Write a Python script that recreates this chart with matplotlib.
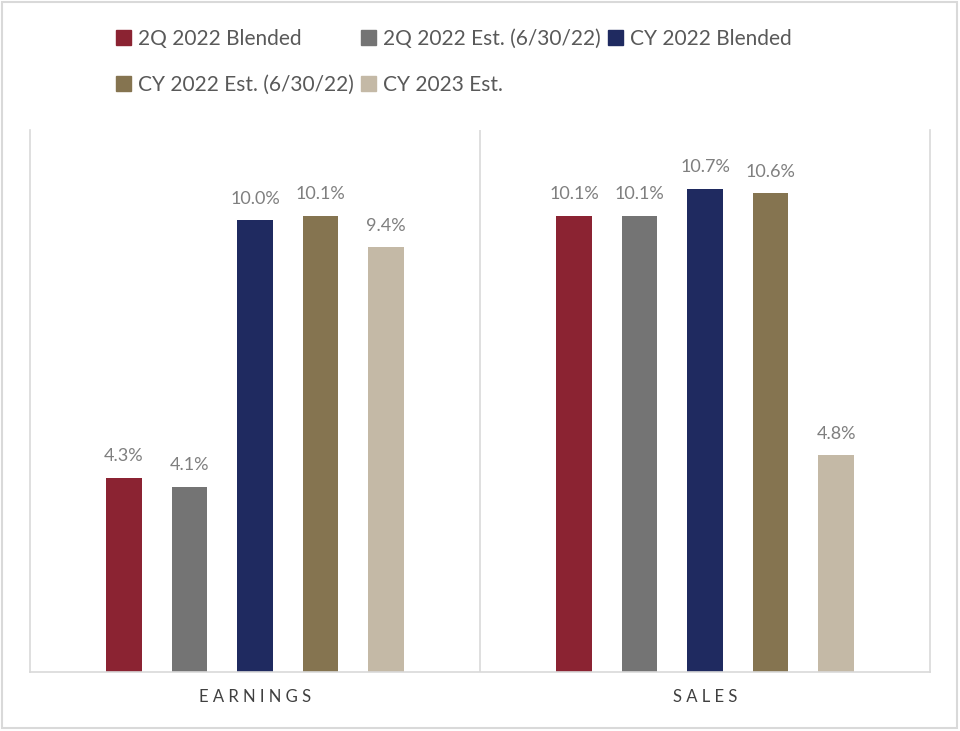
import numpy as np
import matplotlib
matplotlib.use('Agg')
import matplotlib.pyplot as plt
from matplotlib.patches import Rectangle, Patch

plt.rcParams['font.family'] = ['Lato', 'DejaVu Sans']

# data
categories = ['EARNINGS', 'SALES']
series = ['2Q 2022 Blended', '2Q 2022 Est. (6/30/22)', 'CY 2022 Blended',
          'CY 2022 Est. (6/30/22)', 'CY 2023 Est.']
values = [[4.3, 10.1],
          [4.1, 10.1],
          [10.0, 10.7],
          [10.1, 10.6],
          [9.4, 4.8]]
colors = ['#8B2332', '#747474', '#1F2A60', '#857450', '#C4B9A6']

fig = plt.figure(figsize=(9.6, 7.31), dpi=100)
ax = fig.add_axes([30 / 960, 1 - 672 / 731, 900 / 960, 542 / 731])

x = np.arange(len(categories))
step = 0.1456
width = 0.078
for i, (name, vals, col) in enumerate(zip(series, values, colors)):
    xs = x + (i - 2) * step
    ax.bar(xs, vals, width=width, color=col, label=name)
    for xx, v in zip(xs, vals):
        ax.text(xx, v + 0.3, '%.1f%%' % v, ha='center', va='bottom',
                fontsize=13, color='#7F7F7F')

ax.set_xlim(-0.5, 1.5)
ax.set_ylim(0, 12)
ax.set_yticks([])
ax.set_xticks(x)
ax.set_xticklabels([' '.join(c) for c in categories], fontsize=12, color='#404040')
ax.tick_params(axis='x', length=0, pad=12)
for s in ['left', 'right', 'bottom']:
    ax.spines[s].set_color('#D9D9D9')
    ax.spines[s].set_linewidth(1.2)
ax.spines['top'].set_visible(False)
ax.axvline(0.5, color='#D9D9D9', lw=1.2)

# legend row-major: 3 columns
h = [Patch(color=c) for c in colors]
order = [0, 3, 1, 4, 2]
fig.legend([h[i] for i in order], [series[i] for i in order], ncol=3,
           loc='upper left', bbox_to_anchor=(97 / 960, 1 - 10 / 731),
           frameon=False, fontsize=15, handlelength=0.75, handleheight=0.75,
           handletextpad=0.3, columnspacing=0.35, labelspacing=1.25,
           labelcolor='#595959')

fig.patches.append(Rectangle((0.002, 0.004), 0.995, 0.993, transform=fig.transFigure,
                             fill=False, edgecolor='#D9D9D9', lw=1.5))

fig.savefig('out.png', dpi=100)
